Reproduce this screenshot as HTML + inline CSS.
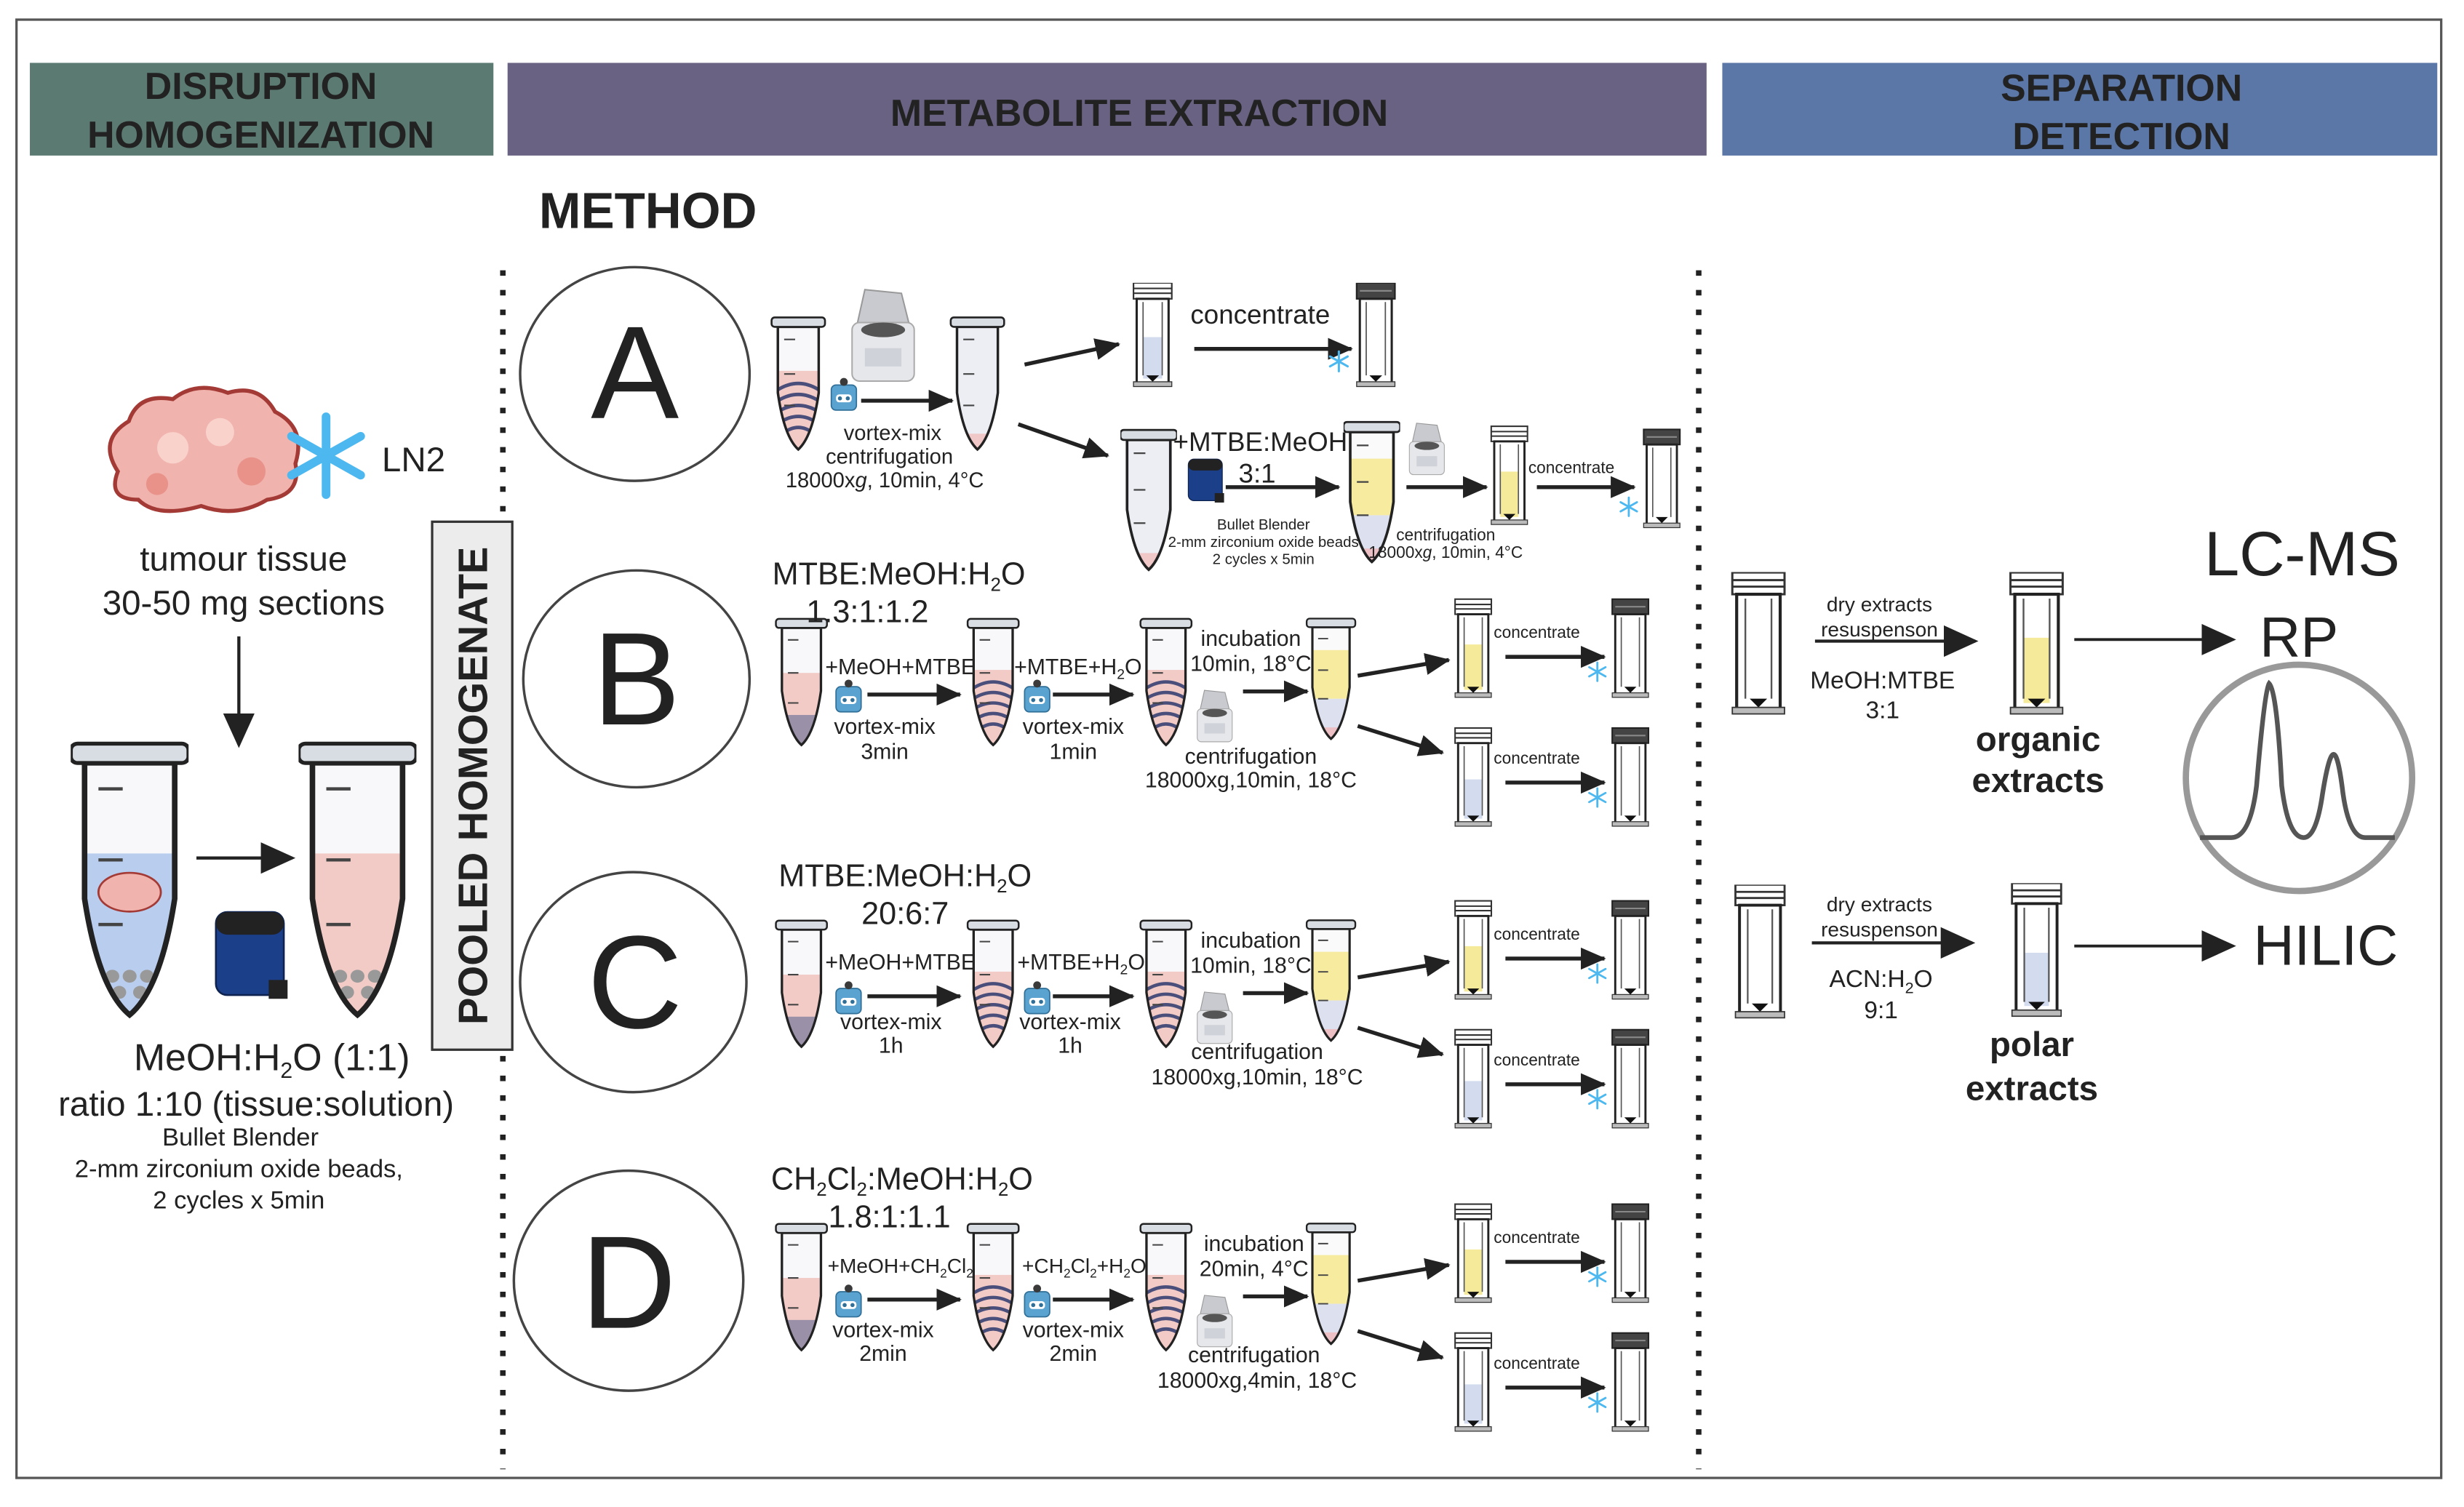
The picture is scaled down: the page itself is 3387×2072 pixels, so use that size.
<!DOCTYPE html>
<html><head><meta charset="utf-8"><style>
html,body{margin:0;padding:0;background:#fff}
svg{display:block}
text{font-family:"Liberation Sans",sans-serif;fill:#222}
.b{font-weight:bold}
</style></head><body>
<svg width="3387" height="2072" viewBox="0 0 1568 959" preserveAspectRatio="none" xmlns="http://www.w3.org/2000/svg" xmlns:xlink="http://www.w3.org/1999/xlink">
<defs>
<marker id="ah" markerWidth="10" markerHeight="10" refX="8" refY="5" orient="auto" markerUnits="userSpaceOnUse" viewBox="0 0 10 10"><path d="M0,0 L10,5 L0,10 Z" fill="#222"/></marker>
<marker id="ahB" markerWidth="22" markerHeight="22" refX="20" refY="11" orient="auto" markerUnits="userSpaceOnUse" viewBox="0 0 22 22"><path d="M0,1 L22,11 L0,21 Z" fill="#222"/></marker>
<marker id="ahS" markerWidth="16" markerHeight="16" refX="15" refY="8" orient="auto" markerUnits="userSpaceOnUse" viewBox="0 0 16 16"><path d="M0,1 L16,8 L0,15 Z" fill="#222"/></marker>
<clipPath id="tb" clipPathUnits="userSpaceOnUse"><path d="M4,10 L30,10 L30,52 Q26,80 17,88 Q8,80 4,52 Z"/></clipPath>
<clipPath id="vb" clipPathUnits="userSpaceOnUse"><rect x="3" y="10" width="20" height="54"/></clipPath>
<g id="tubeOut">
 <path d="M4,10 L30,10 L30,52 Q26,80 17,88 Q8,80 4,52 Z" fill="none" stroke="#222" stroke-width="1.6"/>
 <rect x="0" y="4" width="34" height="6" rx="2" fill="#d8dde3" stroke="#222" stroke-width="1.2"/>
 <line x1="8" y1="18" x2="15" y2="18" stroke="#444"/><line x1="8" y1="40" x2="15" y2="40" stroke="#444"/><line x1="8" y1="60" x2="15" y2="60" stroke="#444"/>
</g>
<symbol id="tP" viewBox="0 0 34 90"><g clip-path="url(#tb)"><rect x="0" y="10" width="34" height="80" fill="#f8f8fa"/><rect x="0" y="40" width="34" height="50" fill="#f2cbc6"/><rect x="0" y="68" width="34" height="22" fill="#9a90a8"/></g><use xlink:href="#tubeOut"/></symbol>
<symbol id="tS" viewBox="0 0 34 90"><g clip-path="url(#tb)"><rect x="0" y="10" width="34" height="80" fill="#f8f8fa"/><rect x="0" y="38" width="34" height="52" fill="#f2cbc6"/><path d="M4,50 Q17,42 30,50 M4,57 Q17,49 30,57 M4,64 Q17,56 30,64 M5,71 Q17,63 29,71 M7,78 Q17,70 27,78" stroke="#4a4e7a" stroke-width="2.2" fill="none"/></g><use xlink:href="#tubeOut"/></symbol>
<symbol id="tE" viewBox="0 0 34 90"><g clip-path="url(#tb)"><rect x="0" y="10" width="34" height="80" fill="#eceef4"/><rect x="0" y="78" width="34" height="12" fill="#f0c8c8"/></g><use xlink:href="#tubeOut"/></symbol>
<symbol id="tY" viewBox="0 0 34 90"><g clip-path="url(#tb)"><rect x="0" y="10" width="34" height="80" fill="#fafafa"/><rect x="0" y="26" width="34" height="34" fill="#f6eb9e"/><rect x="0" y="60" width="34" height="30" fill="#dde0ee"/><rect x="0" y="80" width="34" height="10" fill="#ecc0c4"/></g><use xlink:href="#tubeOut"/></symbol>
<g id="vialOut">
 <rect x="3" y="10" width="20" height="54" fill="none" stroke="#222" stroke-width="1.4"/>
 <line x1="7" y1="12" x2="7" y2="58" stroke="#555" stroke-width=".8"/><line x1="19" y1="12" x2="19" y2="58" stroke="#555" stroke-width=".8"/>
 <path d="M9,58 L17,58 L13,62 Z" fill="#111"/>
 <rect x="1" y="62" width="24" height="3" fill="#bbb" stroke="#333" stroke-width=".6"/>
</g>
<symbol id="vO" viewBox="0 0 26 66"><rect x="1" y="0" width="24" height="10" fill="#fff" stroke="#333"/><line x1="1" y1="3.5" x2="25" y2="3.5" stroke="#333"/><line x1="1" y1="6.5" x2="25" y2="6.5" stroke="#333"/><rect x="3" y="10" width="20" height="54" fill="#fff"/><use xlink:href="#vialOut"/></symbol>
<symbol id="vOY" viewBox="0 0 26 66"><rect x="1" y="0" width="24" height="10" fill="#fff" stroke="#333"/><line x1="1" y1="3.5" x2="25" y2="3.5" stroke="#333"/><line x1="1" y1="6.5" x2="25" y2="6.5" stroke="#333"/><rect x="3" y="10" width="20" height="54" fill="#fff"/><rect x="7" y="30" width="12" height="30" fill="#f5ea9a"/><use xlink:href="#vialOut"/></symbol>
<symbol id="vOB" viewBox="0 0 26 66"><rect x="1" y="0" width="24" height="10" fill="#fff" stroke="#333"/><line x1="1" y1="3.5" x2="25" y2="3.5" stroke="#333"/><line x1="1" y1="6.5" x2="25" y2="6.5" stroke="#333"/><rect x="3" y="10" width="20" height="54" fill="#fff"/><rect x="7" y="34" width="12" height="26" fill="#d3dcee"/><use xlink:href="#vialOut"/></symbol>
<symbol id="vC" viewBox="0 0 26 66"><rect x="1" y="0" width="24" height="10" fill="#444" stroke="#222"/><line x1="3" y1="5" x2="23" y2="5" stroke="#888"/><rect x="3" y="10" width="20" height="54" fill="#fff"/><use xlink:href="#vialOut"/></symbol>
<symbol id="cent" viewBox="0 0 40 55"><path d="M6,20 L10,2 L30,4 L34,20 Z" fill="#c8cacf" stroke="#999" stroke-width=".8"/><rect x="3" y="20" width="34" height="32" rx="4" fill="#e6e7ea" stroke="#aaa" stroke-width=".8"/><ellipse cx="20" cy="24" rx="12" ry="4" fill="#555"/><rect x="10" y="34" width="20" height="10" fill="#cfd2d8"/></symbol>
<symbol id="vort" viewBox="0 0 18 22"><rect x="1" y="5" width="16" height="16" rx="3" fill="#5aa2cf" stroke="#2f6f98" stroke-width=".8"/><circle cx="9" cy="3" r="2.5" fill="#3a3a3a"/><rect x="4" y="11" width="10" height="5" rx="2" fill="#fff"/><circle cx="6.5" cy="13.5" r="1.3" fill="#2f6f98"/><circle cx="11.5" cy="13.5" r="1.3" fill="#2f6f98"/></symbol>
<symbol id="bb" viewBox="0 0 40 50"><rect x="2" y="2" width="36" height="44" rx="6" fill="#1c3f8a" stroke="#0e2350"/><rect x="2" y="2" width="36" height="12" rx="6" fill="#222"/><rect x="30" y="38" width="10" height="10" fill="#222"/></symbol>
<symbol id="sf" viewBox="-10 -10 20 20"><g stroke="#4cb8ef" stroke-width="2" stroke-linecap="round"><line x1="0" y1="-9" x2="0" y2="9"/><line x1="-8" y1="-4.5" x2="8" y2="4.5"/><line x1="-8" y1="4.5" x2="8" y2="-4.5"/></g></symbol>
</defs>

<rect x="10.5" y="12.5" width="1543" height="928" fill="#fff" stroke="#555" stroke-width="1.5"/>

<rect x="19" y="40" width="295" height="59" fill="#5b7a72"/>
<text x="166" y="63" font-size="24" class="b" text-anchor="middle" fill="#1e1e1e">DISRUPTION</text>
<text x="166" y="94" font-size="24" class="b" text-anchor="middle">HOMOGENIZATION</text>
<rect x="323" y="40" width="763" height="59" fill="#6a6282"/>
<text x="725" y="80" font-size="24" class="b" text-anchor="middle">METABOLITE EXTRACTION</text>
<rect x="1096" y="40" width="455" height="59" fill="#5b77a8"/>
<text x="1350" y="64" font-size="24" class="b" text-anchor="middle">SEPARATION</text>
<text x="1350" y="95" font-size="24" class="b" text-anchor="middle">DETECTION</text>

<text x="343" y="145" font-size="32" class="b">METHOD</text>

<line x1="320" y1="172" x2="320" y2="935" stroke="#222" stroke-width="3.5" stroke-dasharray="3.5 9"/>
<line x1="1081" y1="172" x2="1081" y2="935" stroke="#222" stroke-width="3.5" stroke-dasharray="3.5 9"/>

<!-- left -->
<g>
<path d="M75,300 Q62,280 82,268 Q88,250 110,254 Q125,242 145,250 Q165,244 175,262 Q195,272 188,295 Q192,315 170,318 Q150,330 128,322 Q100,330 88,318 Q68,318 75,300 Z" fill="#f1b3ad" stroke="#a33a35" stroke-width="2.5"/>
<circle cx="110" cy="285" r="10" fill="#f9d2cc"/><circle cx="140" cy="275" r="9" fill="#f9d2cc"/><circle cx="160" cy="300" r="9" fill="#e8928a"/><circle cx="100" cy="308" r="7" fill="#e8928a"/>
<use xlink:href="#sf" x="180" y="245" width="55" height="90"/>
<text x="243" y="300" font-size="22">LN2</text>
<text x="155" y="363" font-size="22" text-anchor="middle">tumour tissue</text>
<text x="155" y="391" font-size="22" text-anchor="middle">30-50 mg sections</text>
<line x1="152" y1="405" x2="152" y2="474" stroke="#222" stroke-width="2" marker-end="url(#ahB)"/>
<svg x="45" y="465" width="75" height="185" viewBox="0 0 34 90" preserveAspectRatio="none"><g clip-path="url(#tb)"><rect x="0" y="10" width="34" height="80" fill="#f8f8fa"/><rect x="0" y="38" width="34" height="52" fill="#b9cdee"/><ellipse cx="17" cy="50" rx="9" ry="6" fill="#f1b3ad" stroke="#a33a35" stroke-width=".6"/><circle cx="12" cy="76" r="2" fill="#999"/><circle cx="17" cy="76" r="2" fill="#999"/><circle cx="22" cy="76" r="2" fill="#999"/><circle cx="14" cy="81" r="2" fill="#999"/><circle cx="20" cy="81" r="2" fill="#999"/></g><use xlink:href="#tubeOut"/></svg>
<line x1="125" y1="546" x2="186" y2="546" stroke="#222" stroke-width="2" marker-end="url(#ahB)"/>
<use xlink:href="#bb" x="133" y="578" width="52" height="60"/>
<svg x="190" y="465" width="75" height="185" viewBox="0 0 34 90" preserveAspectRatio="none"><g clip-path="url(#tb)"><rect x="0" y="10" width="34" height="80" fill="#f8f8fa"/><rect x="0" y="38" width="34" height="52" fill="#f2cbc6"/><circle cx="12" cy="76" r="2" fill="#999"/><circle cx="17" cy="76" r="2" fill="#999"/><circle cx="22" cy="76" r="2" fill="#999"/><circle cx="14" cy="81" r="2" fill="#999"/><circle cx="20" cy="81" r="2" fill="#999"/></g><use xlink:href="#tubeOut"/></svg>
<text x="173" y="681" font-size="24" text-anchor="middle">MeOH:H<tspan font-size="14" dy="5">2</tspan><tspan dy="-5">O (1:1)</tspan></text>
<text x="163" y="710" font-size="22" text-anchor="middle">ratio 1:10 (tissue:solution)</text>
<text x="153" y="729" font-size="16" text-anchor="middle">Bullet Blender</text>
<text x="152" y="749" font-size="16" text-anchor="middle">2-mm zirconium oxide beads,</text>
<text x="152" y="769" font-size="16" text-anchor="middle">2 cycles x 5min</text>
</g>

<rect x="275" y="332" width="51" height="336" fill="#ececec" stroke="#333" stroke-width="1.5"/>
<text transform="translate(310,500) rotate(-90)" font-size="26" class="b" text-anchor="middle">POOLED HOMOGENATE</text>

<!-- circles -->
<g fill="none" stroke="#444" stroke-width="1.6">
<ellipse cx="404" cy="238" rx="73" ry="68"/><ellipse cx="405" cy="432" rx="72" ry="69"/><ellipse cx="403" cy="625" rx="72" ry="70"/><ellipse cx="400" cy="815" rx="73" ry="70"/>
</g>
<g font-size="84" text-anchor="middle"><text x="404" y="266">A</text><text x="405" y="461">B</text><text x="404" y="654">C</text><text x="400" y="845">D</text></g>

<!-- method A -->
<use xlink:href="#tS" x="490" y="198" width="36" height="90"/>
<use xlink:href="#cent" x="536" y="182" width="52" height="64"/>
<use xlink:href="#vort" x="528" y="240" width="18" height="22"/>
<line x1="548" y1="255" x2="606" y2="255" stroke="#222" stroke-width="2.5" marker-end="url(#ahS)"/>
<use xlink:href="#tE" x="604" y="198" width="36" height="90"/>
<g font-size="13.5" text-anchor="middle"><text x="568" y="280">vortex-mix</text><text x="566" y="295">centrifugation</text><text x="563" y="310">18000x<tspan font-style="italic">g</tspan>, 10min, 4°C</text></g>
<line x1="652" y1="232" x2="712" y2="219" stroke="#222" stroke-width="2.5" marker-end="url(#ahS)"/>
<use xlink:href="#vOB" x="720" y="180" width="27" height="67"/>
<text x="802" y="206" font-size="17" text-anchor="middle">concentrate</text>
<line x1="760" y1="222" x2="860" y2="222" stroke="#222" stroke-width="2.5" marker-end="url(#ahS)"/>
<use xlink:href="#vC" x="862" y="180" width="27" height="67"/>
<use xlink:href="#sf" x="845" y="222" width="14" height="16"/>
<line x1="648" y1="270" x2="705" y2="290" stroke="#222" stroke-width="2.5" marker-end="url(#ahS)"/>
<use xlink:href="#tE" x="713" y="262" width="36" height="110"/>
<text x="802" y="287" font-size="17" text-anchor="middle">+MTBE:MeOH</text>
<text x="800" y="307" font-size="17" text-anchor="middle">3:1</text>
<use xlink:href="#bb" x="755" y="290" width="24" height="32"/>
<line x1="780" y1="310" x2="852" y2="310" stroke="#222" stroke-width="2.5" marker-end="url(#ahS)"/>
<g font-size="9.5" text-anchor="middle" fill="#333"><text x="804" y="337">Bullet Blender</text><text x="804" y="348">2-mm zirconium oxide beads</text><text x="804" y="359">2 cycles x 5min</text></g>
<use xlink:href="#tY" x="855" y="262" width="36" height="100"/>
<use xlink:href="#cent" x="893" y="268" width="30" height="36"/>
<line x1="895" y1="310" x2="946" y2="310" stroke="#222" stroke-width="2.5" marker-end="url(#ahS)"/>
<use xlink:href="#vOY" x="948" y="270" width="25" height="66"/>
<text x="1000" y="301" font-size="10.5" text-anchor="middle">concentrate</text>
<line x1="978" y1="310" x2="1040" y2="310" stroke="#222" stroke-width="2.5" marker-end="url(#ahS)"/>
<use xlink:href="#vC" x="1045" y="272" width="25" height="66"/>
<use xlink:href="#sf" x="1030" y="315" width="13" height="15"/>
<g font-size="10.5" text-anchor="middle"><text x="920" y="344">centrifugation</text><text x="920" y="355">18000x<tspan font-style="italic">g</tspan>, 10min, 4°C</text></g>

<!-- methods B C D -->
<g id="rowB">
<use xlink:href="#tP" x="492" y="390" width="36" height="86"/>
<use xlink:href="#vort" x="531" y="432" width="18" height="22"/>
<line x1="552" y1="442" x2="611" y2="442" stroke="#222" stroke-width="2.5" marker-end="url(#ahS)"/>
<use xlink:href="#tS" x="614" y="390" width="36" height="86"/>
<use xlink:href="#vort" x="651" y="432" width="18" height="22"/>
<line x1="670" y1="442" x2="721" y2="442" stroke="#222" stroke-width="2.5" marker-end="url(#ahS)"/>
<use xlink:href="#tS" x="724" y="390" width="36" height="86"/>
<use xlink:href="#cent" x="758" y="438" width="30" height="36"/>
<line x1="791" y1="440" x2="832" y2="440" stroke="#222" stroke-width="2.5" marker-end="url(#ahS)"/>
<use xlink:href="#tY" x="829" y="390" width="36" height="82"/>
<line x1="864" y1="430" x2="922" y2="420" stroke="#222" stroke-width="2.5" marker-end="url(#ahS)"/>
<line x1="864" y1="462" x2="918" y2="479" stroke="#222" stroke-width="2.5" marker-end="url(#ahS)"/>
<use xlink:href="#vOY" x="925" y="380" width="25" height="66"/>
<text x="978" y="406" font-size="10.5" text-anchor="middle">concentrate</text>
<line x1="958" y1="418" x2="1021" y2="418" stroke="#222" stroke-width="2.5" marker-end="url(#ahS)"/>
<use xlink:href="#vC" x="1025" y="380" width="25" height="66"/>
<use xlink:href="#sf" x="1010" y="420" width="13" height="15"/>
<use xlink:href="#vOB" x="925" y="462" width="25" height="66"/>
<text x="978" y="486" font-size="10.5" text-anchor="middle">concentrate</text>
<line x1="958" y1="498" x2="1021" y2="498" stroke="#222" stroke-width="2.5" marker-end="url(#ahS)"/>
<use xlink:href="#vC" x="1025" y="462" width="25" height="66"/>
<use xlink:href="#sf" x="1010" y="500" width="13" height="15"/>
</g>
<use xlink:href="#rowB" x="0" y="192"/>
<use xlink:href="#rowB" x="0" y="385"/>

<g font-size="14" text-anchor="middle">
<text x="572" y="372" font-size="20">MTBE:MeOH:H<tspan font-size="12" dy="4">2</tspan><tspan dy="-4">O</tspan></text>
<text x="552" y="396" font-size="20">1.3:1:1.2</text>
<text x="573" y="429">+MeOH+MTBE</text><text x="563" y="467">vortex-mix</text><text x="563" y="483">3min</text>
<text x="686" y="429">+MTBE+H<tspan font-size="9" dy="3">2</tspan><tspan dy="-3">O</tspan></text><text x="683" y="467">vortex-mix</text><text x="683" y="483">1min</text>
<text x="796" y="411">incubation</text><text x="796" y="427">10min, 18°C</text>
<text x="796" y="486">centrifugation</text><text x="796" y="501">18000xg,10min, 18°C</text>

<text x="576" y="564" font-size="20">MTBE:MeOH:H<tspan font-size="12" dy="4">2</tspan><tspan dy="-4">O</tspan></text>
<text x="576" y="588" font-size="20">20:6:7</text>
<text x="573" y="617">+MeOH+MTBE</text><text x="567" y="655">vortex-mix</text><text x="567" y="670">1h</text>
<text x="688" y="617">+MTBE+H<tspan font-size="9" dy="3">2</tspan><tspan dy="-3">O</tspan></text><text x="681" y="655">vortex-mix</text><text x="681" y="670">1h</text>
<text x="796" y="603">incubation</text><text x="796" y="619">10min, 18°C</text>
<text x="800" y="674">centrifugation</text><text x="800" y="690">18000xg,10min, 18°C</text>

<text x="574" y="757" font-size="20">CH<tspan font-size="12" dy="4">2</tspan><tspan dy="-4">Cl</tspan><tspan font-size="12" dy="4">2</tspan><tspan dy="-4">:MeOH:H</tspan><tspan font-size="12" dy="4">2</tspan><tspan dy="-4">O</tspan></text>
<text x="566" y="781" font-size="20">1.8:1:1.1</text>
<text x="573" y="810" font-size="13">+MeOH+CH<tspan font-size="8" dy="3">2</tspan><tspan dy="-3">Cl</tspan><tspan font-size="8" dy="3">2</tspan></text><text x="562" y="851">vortex-mix</text><text x="562" y="866">2min</text>
<text x="690" y="810" font-size="13">+CH<tspan font-size="8" dy="3">2</tspan><tspan dy="-3">Cl</tspan><tspan font-size="8" dy="3">2</tspan><tspan dy="-3">+H</tspan><tspan font-size="8" dy="3">2</tspan><tspan dy="-3">O</tspan></text><text x="683" y="851">vortex-mix</text><text x="683" y="866">2min</text>
<text x="798" y="796">incubation</text><text x="798" y="812">20min, 4°C</text>
<text x="798" y="867">centrifugation</text><text x="800" y="883">18000xg,4min, 18°C</text>
</g>

<!-- right -->
<use xlink:href="#vO" x="1101" y="364" width="36" height="92"/>
<g font-size="13" text-anchor="middle"><text x="1196" y="389">dry extracts</text><text x="1196" y="405">resuspenson</text></g>
<line x1="1155" y1="408" x2="1257" y2="408" stroke="#222" stroke-width="2" marker-end="url(#ahB)"/>
<g font-size="15.5" text-anchor="middle"><text x="1198" y="438">MeOH:MTBE</text><text x="1198" y="457">3:1</text></g>
<use xlink:href="#vOY" x="1278" y="364" width="36" height="92"/>
<g font-size="22" class="b" text-anchor="middle"><text x="1297" y="478">organic</text><text x="1297" y="504">extracts</text></g>
<line x1="1320" y1="407" x2="1421" y2="407" stroke="#222" stroke-width="1.8" marker-end="url(#ahB)"/>
<text x="1465" y="366" font-size="40" text-anchor="middle">LC-MS</text>
<text x="1463" y="418" font-size="36" text-anchor="middle">RP</text>
<circle cx="1463" cy="495" r="72" fill="none" stroke="#999" stroke-width="4"/>
<path d="M1400,533 L1420,533 Q1432,533 1436,500 Q1441,440 1444,435 Q1449,440 1452,500 Q1456,533 1466,533 Q1474,533 1478,505 Q1482,480 1485,480 Q1488,480 1491,505 Q1495,533 1505,533 L1524,533" fill="none" stroke="#555" stroke-width="3"/>
<use xlink:href="#vO" x="1102" y="563" width="36" height="86"/>
<g font-size="13" text-anchor="middle"><text x="1196" y="580">dry extracts</text><text x="1196" y="596">resuspenson</text></g>
<line x1="1153" y1="600" x2="1255" y2="600" stroke="#222" stroke-width="2" marker-end="url(#ahB)"/>
<text x="1197" y="628" font-size="15.5" text-anchor="middle">ACN:H<tspan font-size="10" dy="4">2</tspan><tspan dy="-4">O</tspan></text>
<text x="1197" y="648" font-size="15.5" text-anchor="middle">9:1</text>
<use xlink:href="#vOB" x="1278" y="562" width="36" height="86"/>
<g font-size="22" class="b" text-anchor="middle"><text x="1293" y="672">polar</text><text x="1293" y="700">extracts</text></g>
<line x1="1320" y1="602" x2="1421" y2="602" stroke="#222" stroke-width="1.8" marker-end="url(#ahB)"/>
<text x="1480" y="614" font-size="36" text-anchor="middle">HILIC</text>
</svg>
</body></html>
